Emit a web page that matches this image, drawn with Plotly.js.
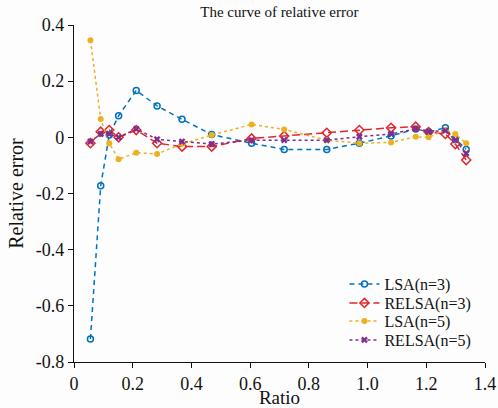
<!DOCTYPE html>
<html><head><meta charset="utf-8">
<script src="https://cdn.plot.ly/plotly-3.0.1.min.js"></script>
<style>
html,body{margin:0;padding:0;background:#fff;}
#chart{width:498px;height:408px;}
</style>
</head><body><div id="chart"></div>
<script>
const ratio = [0.056, 0.091, 0.12, 0.152, 0.212, 0.283, 0.368, 0.469, 0.605, 0.716, 0.861, 0.972, 1.08, 1.164, 1.208, 1.265, 1.299, 1.336];
const lsa3   = [-0.718, -0.172, 0.008, 0.077, 0.167, 0.112, 0.064, 0.01, -0.021, -0.043, -0.043, -0.021, 0.005, 0.03, 0.019, 0.034, -0.006, -0.043];
const relsa3 = [-0.021, 0.02, 0.026, 0.0, 0.026, -0.021, -0.033, -0.033, -0.004, 0.005, 0.016, 0.026, 0.034, 0.038, 0.019, 0.012, -0.024, -0.081];
const lsa5   = [0.346, 0.065, -0.021, -0.078, -0.055, -0.059, -0.024, 0.008, 0.046, 0.028, -0.01, -0.021, -0.018, 0.002, 0.0, 0.026, 0.012, -0.021];
const relsa5 = [-0.015, 0.012, 0.012, 0.0, 0.03, -0.007, -0.015, -0.024, -0.01, -0.01, -0.01, 0.002, 0.012, 0.03, 0.02, 0.024, -0.01, -0.057];
const seriesNames = ["LSA(n=3)", "RELSA(n=3)", "LSA(n=5)", "RELSA(n=5)"];
const xTicks = [0, 0.2, 0.4, 0.6, 0.8, 1.0, 1.2, 1.4];
const xTickText = ["0", "0.2", "0.4", "0.6", "0.8", "1.0", "1.2", "1.4"];
const yTicks = [-0.8, -0.6, -0.4, -0.2, 0, 0.2, 0.4];
const yTickText = ["-0.8", "-0.6", "-0.4", "-0.2", "0", "0.2", "0.4"];

const font = "Liberation Serif, serif";
const traces = [
  {x: ratio, y: lsa3, name: seriesNames[0], mode: "lines+markers", legend: "legend",
   line: {color: "#0072BD", dash: "5px,4px", width: 1.5},
   marker: {symbol: "circle-open", size: 6, color: "#0072BD", line: {width: 1.5}}},
  {x: ratio, y: relsa3, name: seriesNames[1], mode: "lines+markers", legend: "legend2",
   line: {color: "#E3262B", dash: "8px,4px", width: 1.5},
   marker: {symbol: "diamond-open", size: 7, color: "#E3262B", line: {width: 1.5}}},
  {x: ratio, y: lsa5, name: seriesNames[2], mode: "lines+markers", legend: "legend3",
   line: {color: "#EDB120", dash: "dot", width: 1.5},
   marker: {symbol: "circle", size: 6, color: "#EDB120"}},
  {x: ratio, y: relsa5, name: seriesNames[3], mode: "lines+markers", legend: "legend4",
   line: {color: "#7E2F8E", dash: "dot", width: 1.5},
   marker: {symbol: "x", size: 6, color: "#7E2F8E"}}
];
function leg(py) {
  return {x: 0.658, y: (362 - py) / 337, xanchor: "left", yanchor: "middle", bgcolor: "rgba(0,0,0,0)",
          font: {family: font, size: 16, color: "#111"}, itemwidth: 30};
}
const layout = {
  width: 498, height: 408,
  margin: {l: 74, r: 13, t: 25, b: 46},
  paper_bgcolor: "#fdfdfd", plot_bgcolor: "#fdfdfd",
  font: {family: font, color: "#111", size: 16},
  title: {text: "The curve of relative error", font: {family: font, size: 15, color: "#111"},
          x: 0.561, xanchor: "center", y: 0.983, yanchor: "top"},
  showlegend: true,
  legend: leg(284), legend2: leg(303), legend3: leg(321), legend4: leg(340),
  xaxis: {range: [0, 1.4], tickvals: xTicks, ticktext: xTickText, showgrid: false, zeroline: false,
          showline: true, linecolor: "#111", linewidth: 1.2, ticks: "outside", ticklen: 5, tickcolor: "#111",
          tickfont: {family: font, size: 18}, title: {text: "Ratio", font: {family: font, size: 19}, standoff: 0}},
  yaxis: {range: [-0.8, 0.4], tickvals: yTicks, ticktext: yTickText, showgrid: false, zeroline: false,
          showline: true, linecolor: "#111", linewidth: 1.2, ticks: "outside", ticklen: 5, tickcolor: "#111",
          tickfont: {family: font, size: 18}, title: {text: "Relative error", font: {family: font, size: 20}, standoff: 6}}
};
Plotly.newPlot("chart", traces, layout, {displayModeBar: false, staticPlot: true});
</script></body></html>
